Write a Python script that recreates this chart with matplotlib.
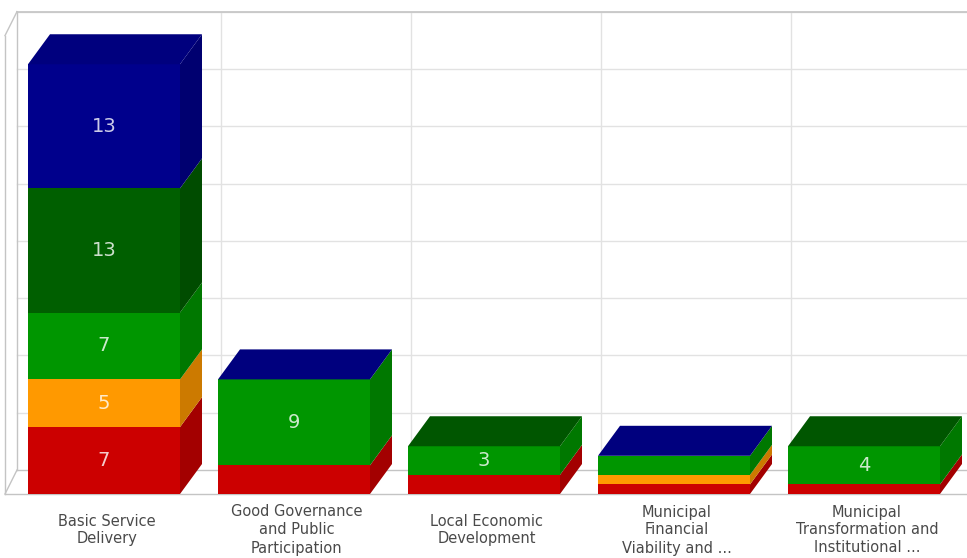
import matplotlib
matplotlib.use("Agg")
import matplotlib.pyplot as plt
from matplotlib.colors import to_rgb

# ---- data ----
categories = ["Basic Service\nDelivery",
              "Good Governance\nand Public\nParticipation",
              "Local Economic\nDevelopment",
              "Municipal\nFinancial\nViability and ...",
              "Municipal\nTransformation and\nInstitutional ..."]
# series stacked bottom -> top, None = not present for that category
red = [7, 3, 2, 1, 1]
orange = [5, None, None, 1, None]
green = [7, 9, 3, 2, 4]
dark_green = [13, None, 0, None, 0]
blue = [13, 0, None, 0, None]
series = [red, orange, green, dark_green, blue]
colors = ["#CC0000", "#FF9900", "#009600", "#005F00", "#00008C"]
hidden_labels = [(1, 0)]   # (category, series) values not labelled
axis_max = 48
axis_step = 6

# ---- geometry (pixel scale of the picture) ----
PX_CAT = 190.0
PX_VAL = 9.55
DX = 22 / PX_CAT      # bar depth
DY = 30 / PX_VAL
WDX = 22 / PX_CAT     # back wall depth
WDY = 24 / PX_VAL
BW = 0.4

def shade(c, f):
    r, g, b = to_rgb(c)
    return (r * f, g * f, b * f)

fig = plt.figure(figsize=(9.67, 5.58), dpi=100)
ax = fig.add_axes([0, 0, 1, 1])
ax.set_xlim(-104 / PX_CAT, (967 - 104) / PX_CAT)
ax.set_ylim(-(558 - 494) / PX_VAL, 494 / PX_VAL)
ax.axis("off")

# back wall + floor + left wall
n = len(categories)
wl = (17 - 104) / PX_CAT          # back-left edge
fl = wl - 12 / PX_CAT             # front-left edge
xr = n
grid_c = "#E2E2E2"
edge_c = "#C4C4C4"
for k in range(1, axis_max // axis_step + 1):
    y = k * axis_step + WDY
    ax.plot([wl, xr], [y, y], color=grid_c, lw=1, zorder=1)
for i in range(n - 1):
    x = i + 0.5 + WDX
    ax.plot([x, x], [WDY, axis_max + WDY], color=grid_c, lw=1, zorder=1)
ax.plot([wl, xr], [axis_max + WDY, axis_max + WDY], color=edge_c, lw=1.2, zorder=1)
ax.plot([wl, wl], [WDY, axis_max + WDY], color=edge_c, lw=1, zorder=1)
ax.plot([fl, fl], [0, axis_max], color=edge_c, lw=1, zorder=1)
ax.plot([fl, wl], [axis_max, axis_max + WDY], color=edge_c, lw=1, zorder=1)
ax.plot([fl, wl], [0, WDY], color=edge_c, lw=1, zorder=1)
ax.plot([wl, xr], [WDY, WDY], color=edge_c, lw=1, zorder=1)
ax.plot([fl, xr], [0, 0], color=edge_c, lw=1, zorder=1)

# bars
for i in range(n):
    bottom = 0
    top_color = None
    for j, s in enumerate(series):
        v = s[i]
        if v is None:
            continue
        top_color = colors[j]
        if v <= 0:
            continue
        x0, x1 = i - BW, i + BW
        ax.fill([x0, x1, x1, x0], [bottom, bottom, bottom + v, bottom + v],
                color=colors[j], lw=0, zorder=3)
        ax.fill([x1, x1 + DX, x1 + DX, x1],
                [bottom, bottom + DY, bottom + v + DY, bottom + v],
                color=shade(colors[j], 0.8), lw=0, zorder=3)
        if (i, j) not in hidden_labels and v >= 3:
            ax.text(i, bottom + v / 2, str(v), ha="center", va="center",
                    fontsize=14, color="white", alpha=0.8, zorder=5)
        bottom += v
    x0, x1 = i - BW, i + BW
    ax.fill([x0, x1, x1 + DX, x0 + DX],
            [bottom, bottom, bottom + DY, bottom + DY],
            color=shade(top_color, 0.9), lw=0, zorder=3)

# category labels
for i, lab in enumerate(categories):
    ax.text(i + 0.015, -36 / PX_VAL, lab, ha="center", va="center",
            multialignment="center", fontsize=10.5, color="#4A4A4A",
            linespacing=1.25)

fig.savefig("out.png", dpi=100)
